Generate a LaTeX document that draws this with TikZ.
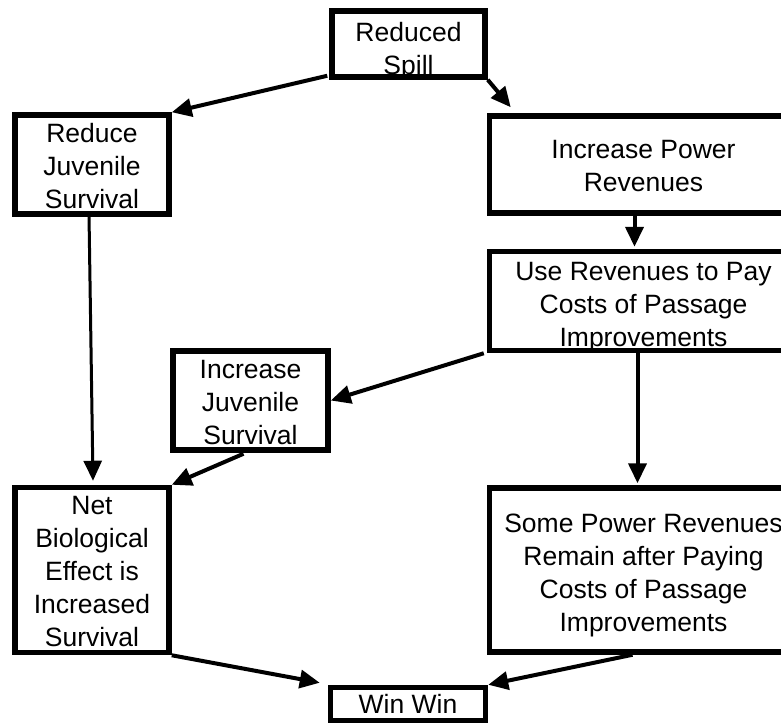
\documentclass[tikz,border=0pt]{standalone}
\usepackage{fontspec}
\setmainfont{Liberation Sans}
\usetikzlibrary{arrows.meta,calc}
\newcommand\lowtext[2][5pt]{\raisebox{-#1}[\height][\depth]{\def\arraystretch{1}\begin{tabular}{@{}c@{}}#2\end{tabular}}}
\begin{document}
\begin{tikzpicture}[x=1pt,y=-1pt,
  box/.style={draw=black,line width=5.5pt,rectangle,align=center,inner sep=0pt,
    font=\fontsize{26.5}{33}\selectfont},
  conn/.style={line width=4pt,-{Triangle[length=20pt,width=18pt]}}]
\useasboundingbox (0,0) rectangle (781,724);
\clip (0,0) rectangle (781,724);
\node[box,minimum width=153pt,minimum height=66pt] (spill) at (408.5,44) {\lowtext[7pt]{Reduced\\Spill}};
\node[box,minimum width=154pt,minimum height=97pt] (redjuv) at (92,164.5) {\lowtext[4pt]{Reduce\\Juvenile\\Survival}};
\node[box,minimum width=308pt,minimum height=97pt] (incpow) at (643.5,164.5) {\lowtext[4pt]{Increase Power\\Revenues}};
\node[box,minimum width=308pt,minimum height=96pt] (userev) at (643.5,301) {\lowtext[6pt]{Use Revenues to Pay\\Costs of Passage\\Improvements}};
\node[box,minimum width=155pt,minimum height=99pt] (incjuv) at (250.5,400.5) {\lowtext[4pt]{Increase\\Juvenile\\Survival}};
\node[box,minimum width=154pt,minimum height=164pt] (netbio) at (92,570) {\lowtext[4pt]{Net\\Biological\\Effect is\\Increased\\Survival}};
\node[box,minimum width=308pt,minimum height=164pt] (some) at (643.5,570) {\lowtext[5pt]{Some Power Revenues\\Remain after Paying\\Costs of Passage\\Improvements}};
\node[box,minimum width=155pt,minimum height=32pt] (winwin) at (408,704) {\lowtext[3pt]{Win Win}};

\draw[conn] ($(spill.south west)+(-2,-4)$) -- (redjuv.north east);
\draw[conn] (spill.south east) -- ($(incpow.north west)+(24,-6)$);
\draw[conn] ($(incpow.south)+(-9,-4)$) -- ($(userev.north)+(-9,-2)$);
\draw[conn] ($(userev.south west)+(-3,0)$) -- (incjuv.east);
\draw[conn] ($(userev.south)+(-6,-1)$) -- ($(some.north)+(-6,-2)$);
\draw[conn,line width=3pt] ($(redjuv.south)+(-3,-2)$) -- ($(netbio.north)+(1,-4)$);
\draw[conn] ($(incjuv.south)+(-7,1)$) -- (netbio.north east);
\draw[conn] (netbio.south east) -- ($(winwin.north west)+(-8,-2)$);
\draw[conn] ($(some.south)+(-11,0)$) -- (winwin.north east);
\end{tikzpicture}
\end{document}
